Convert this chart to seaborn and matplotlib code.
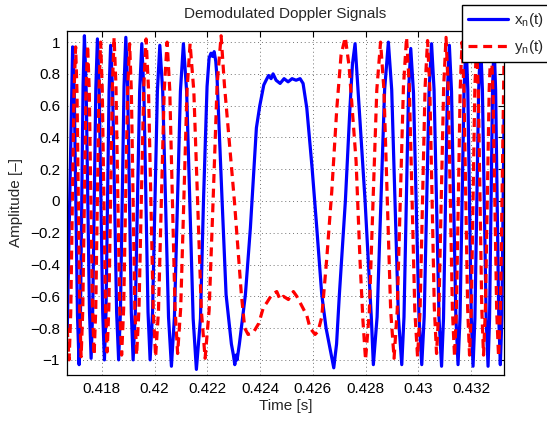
import matplotlib
matplotlib.use("Agg")
import matplotlib.pyplot as plt
import seaborn as sns
import pandas as pd

# (time [s], amplitude): extrema, shoulders, flat parts
x_n_points = [
    (0.416685, -0.85), (0.416893, 0.97), (0.416955, 0.68), (0.417077, -0.72),
    (0.417139, -1.03), (0.417189, -0.72), (0.417290, 0.73), (0.417340, 1.04),
    (0.417404, 0.73), (0.417531, -0.69), (0.417594, -0.99), (0.417654, -0.69),
    (0.417773, 0.71), (0.417833, 1.02), (0.417900, 0.71), (0.418033, -0.70),
    (0.418099, -1.00), (0.418158, -0.70), (0.418275, 0.69), (0.418334, 0.98),
    (0.418410, 0.69), (0.418561, -0.70), (0.418637, -1.00), (0.418705, -0.70),
    (0.418842, 0.72), (0.418910, 1.03), (0.418979, 0.72), (0.419118, -0.70),
    (0.419187, -1.00), (0.419269, -0.70), (0.419434, 0.69), (0.419516, 0.99),
    (0.419595, 0.69), (0.419752, -0.70), (0.419831, -1.00), (0.419923, -0.70),
    (0.420107, 0.69), (0.420199, 0.98), (0.420309, 0.69), (0.420529, -0.73),
    (0.420639, -1.04), (0.420753, -0.73), (0.420980, 0.69), (0.421093, 0.99),
    (0.421216, 0.69), (0.421463, -0.74), (0.421586, -1.06), (0.421740, -0.74),
    (0.421855, 0.00), (0.421990, 0.72), (0.422068, 0.90), (0.422140, 0.93),
    (0.422200, 0.91), (0.422260, 0.94), (0.422320, 0.88), (0.422371, 0.77),
    (0.422561, 0.00), (0.422712, -0.59), (0.422913, -0.90), (0.422990, -0.97),
    (0.423042, -1.03), (0.423090, -0.97), (0.423129, -1.00), (0.423216, -0.90),
    (0.423444, -0.59), (0.423633, -0.17), (0.423785, 0.25), (0.423861, 0.46),
    (0.423990, 0.60), (0.424141, 0.73), (0.424229, 0.76), (0.424324, 0.79),
    (0.424418, 0.77), (0.424494, 0.80), (0.424608, 0.76), (0.424760, 0.74),
    (0.424911, 0.77), (0.425063, 0.75), (0.425214, 0.77), (0.425366, 0.76),
    (0.425518, 0.77), (0.425631, 0.74), (0.425772, 0.585), (0.425972, 0.21),
    (0.426151, -0.17), (0.426340, -0.59), (0.426503, -0.80), (0.426655, -0.93),
    (0.426795, -1.05), (0.426901, -0.90), (0.427007, -0.59), (0.427235, 0.00),
    (0.427413, 0.60), (0.427503, 0.86), (0.427603, 0.99), (0.427792, 0.50),
    (0.427982, 0.00), (0.428218, -0.73), (0.428296, -1.03), (0.428438, -0.73),
    (0.428723, 0.70), (0.428865, 1.00), (0.428992, 0.70), (0.429246, -0.73),
    (0.429373, -1.03), (0.429458, -0.73), (0.429629, 0.68), (0.429714, 0.96),
    (0.429818, 0.68), (0.430027, -0.73), (0.430131, -1.03), (0.430224, -0.73),
    (0.430410, 0.70), (0.430503, 0.99), (0.430598, 0.70), (0.430787, -0.74),
    (0.430882, -1.04), (0.430956, -0.74), (0.431104, 0.69), (0.431178, 0.98),
    (0.431260, 0.69), (0.431425, -0.73), (0.431507, -1.03), (0.431583, -0.73),
    (0.431735, 0.70), (0.431811, 1.00), (0.431877, 0.70), (0.432010, -0.74),
    (0.432076, -1.04), (0.432147, -0.74), (0.432289, 0.70), (0.432360, 1.00),
    (0.432431, 0.70), (0.432574, -0.74), (0.432645, -1.04), (0.432702, -0.74),
    (0.432815, 0.70), (0.432872, 1.00), (0.432932, 0.70), (0.433051, -0.73),
    (0.433111, -1.03), (0.433171, -0.73), (0.433252, 0.54),
]

y_n_points = [
    (0.416685, -0.80), (0.416760, -1.00), (0.416822, -0.70), (0.416945, 0.68),
    (0.417007, 0.97), (0.417059, 0.68), (0.417163, -0.69), (0.417215, -0.98),
    (0.417277, -0.69), (0.417400, 0.69), (0.417462, 0.98), (0.417524, 0.69),
    (0.417647, -0.68), (0.417708, -0.97), (0.417770, -0.68), (0.417893, 0.70),
    (0.417955, 1.00), (0.418017, 0.70), (0.418140, -0.67), (0.418201, -0.95),
    (0.418267, -0.67), (0.418400, 0.72), (0.418466, 1.03), (0.418537, 0.72),
    (0.418680, -0.68), (0.418751, -0.97), (0.418827, -0.68), (0.418978, 0.69),
    (0.419054, 0.99), (0.419120, 0.69), (0.419253, -0.68), (0.419319, -0.97),
    (0.419409, -0.68), (0.419589, 0.71), (0.419679, 1.02), (0.419769, 0.71),
    (0.419950, -0.69), (0.420040, -0.98), (0.420149, -0.69), (0.420367, 0.70),
    (0.420476, 1.00), (0.420576, 0.70), (0.420775, -0.67), (0.420874, -0.96),
    (0.420992, -0.67), (0.421229, 0.69), (0.421347, 0.99), (0.421489, 0.69),
    (0.421774, -0.69), (0.421916, -0.99), (0.422068, -0.69), (0.422219, 0.00),
    (0.422371, 0.73), (0.422523, 1.04), (0.422649, 0.73), (0.423027, 0.00),
    (0.423292, -0.59), (0.423420, -0.80), (0.423546, -0.84), (0.423736, -0.83),
    (0.423952, -0.77), (0.424126, -0.67), (0.424255, -0.64), (0.424445, -0.59),
    (0.424634, -0.57), (0.424760, -0.62), (0.424885, -0.60), (0.425074, -0.62),
    (0.425264, -0.57), (0.425392, -0.60), (0.425582, -0.66), (0.425772, -0.72),
    (0.425897, -0.80), (0.426086, -0.84), (0.426200, -0.82), (0.426340, -0.73),
    (0.426530, -0.36), (0.426719, 0.06), (0.426909, 0.58), (0.427072, 0.92),
    (0.427231, 1.03), (0.427375, 0.85), (0.427641, 0.25), (0.427792, -0.38),
    (0.427900, -0.75), (0.428000, -1.00), (0.428142, -0.70), (0.428427, 0.70),
    (0.428569, 1.00), (0.428697, 0.70), (0.428953, -0.69), (0.429081, -0.99),
    (0.429200, -0.69), (0.429437, 0.72), (0.429555, 1.03), (0.429659, 0.72),
    (0.429868, -0.69), (0.429972, -0.98), (0.430067, -0.69), (0.430256, 0.71),
    (0.430351, 1.01), (0.430436, 0.71), (0.430607, -0.67), (0.430692, -0.96),
    (0.430782, -0.67), (0.430962, 0.72), (0.431052, 1.03), (0.431133, 0.72),
    (0.431294, -0.69), (0.431375, -0.98), (0.431446, -0.69), (0.431588, 0.70),
    (0.431659, 1.00), (0.431730, 0.70), (0.431872, -0.68), (0.431943, -0.97),
    (0.432010, -0.68), (0.432143, 0.70), (0.432209, 1.00), (0.432275, 0.70),
    (0.432408, -0.68), (0.432474, -0.97), (0.432545, -0.68), (0.432688, 0.70),
    (0.432759, 1.00), (0.432830, 0.70), (0.432972, -0.69), (0.433043, -0.98),
    (0.433114, -0.69), (0.433252, 0.90),
]

x_ticks = [0.418, 0.42, 0.422, 0.424, 0.426, 0.428, 0.43, 0.432]
x_tick_labels = ["0.418", "0.42", "0.422", "0.424", "0.426", "0.428", "0.43", "0.432"]
y_ticks = [-1, -0.8, -0.6, -0.4, -0.2, 0, 0.2, 0.4, 0.6, 0.8, 1]
y_tick_labels = ["\u22121", "\u22120.8", "\u22120.6", "\u22120.4", "\u22120.2", "0",
                 "0.2", "0.4", "0.6", "0.8", "1"]

df_x = pd.DataFrame(x_n_points, columns=["t", "v"])
df_y = pd.DataFrame(y_n_points, columns=["t", "v"])

sns.set_style("white")
plt.rcParams["font.family"] = ["Liberation Sans", "DejaVu Sans"]
plt.rcParams["font.size"] = 11

fig = plt.figure(figsize=(5.47, 4.21), dpi=100)
ax = fig.add_axes([0.1225, 0.1093, 0.7989, 0.8171])

sns.lineplot(data=df_x, x="t", y="v", ax=ax, color="#0000ff", linewidth=2.3,
             estimator=None, sort=False, label=r"x$_{\mathregular{n}}$(t)")
sns.lineplot(data=df_y, x="t", y="v", ax=ax, color="#ff0000", linewidth=2.3,
             estimator=None, sort=False, label=r"y$_{\mathregular{n}}$(t)")
ax.lines[1].set_dashes((2.8, 1.8))

ax.set_xlim(0.41668, 0.43325)
ax.set_ylim(-1.095, 1.07)
ax.set_xticks(x_ticks)
ax.set_xticklabels(x_tick_labels)
ax.set_yticks(y_ticks)
ax.set_yticklabels(y_tick_labels)
ax.grid(True, color="0.45", linestyle=(0, (1, 3)), linewidth=0.7)
ax.tick_params(direction="in", length=4, width=0.8, top=True, right=True,
               labelsize=11, colors="black", pad=5)
for s in ax.spines.values():
    s.set_visible(True)
    s.set_color("black")
    s.set_linewidth(0.9)

ax.set_title("Demodulated Doppler Signals", fontsize=11, pad=9.5)
ax.set_xlabel("Time [s]", fontsize=11, labelpad=2)
ax.set_ylabel("Amplitude [\u2013]", fontsize=11, labelpad=5)

leg = ax.legend(loc="upper left", bbox_to_anchor=(462 / 547, 1 - 5 / 421),
                bbox_transform=fig.transFigure, fontsize=11, frameon=True,
                fancybox=False, handlelength=2.6, handletextpad=0.4,
                borderpad=0.4, labelspacing=0.6, borderaxespad=0)
leg.get_frame().set_edgecolor("black")
leg.get_frame().set_linewidth(1.0)
leg.get_frame().set_alpha(1)

fig.savefig("out.png", dpi=100, facecolor="white")
